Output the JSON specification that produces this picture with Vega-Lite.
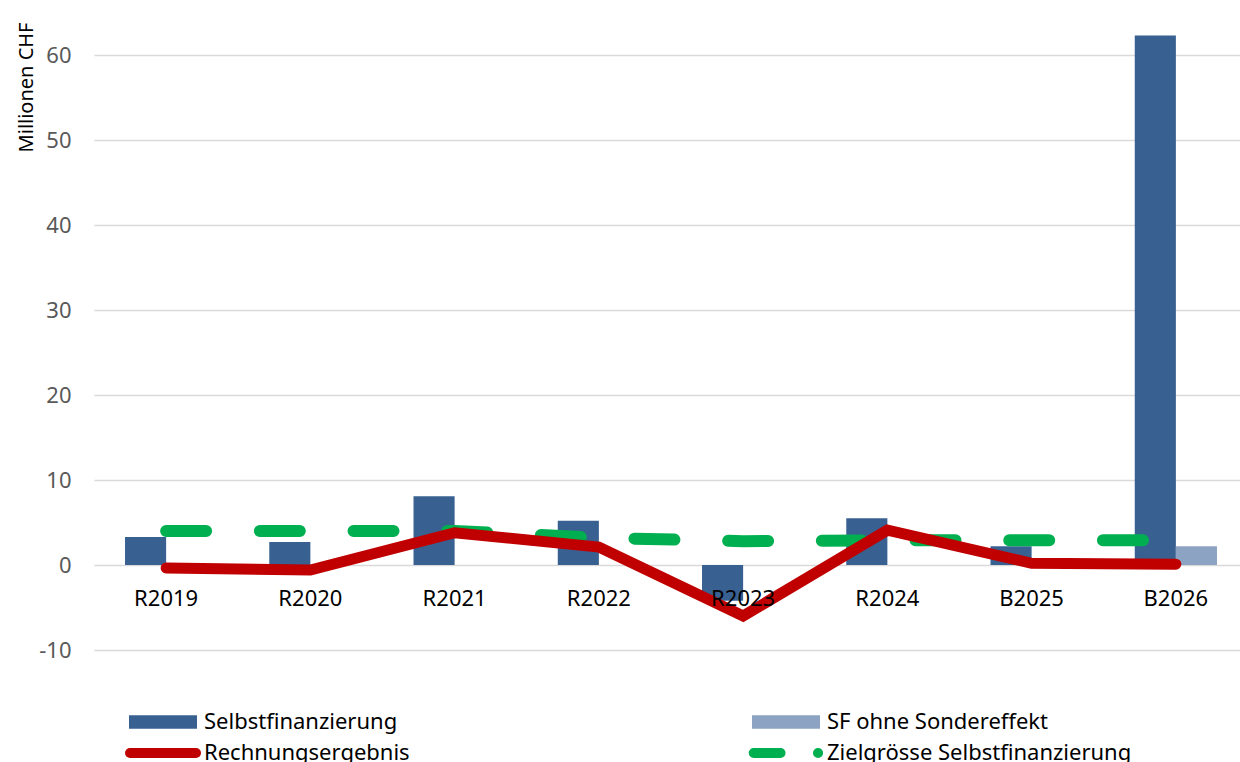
{
  "$schema": "https://vega.github.io/schema/vega-lite/v6.json",
  "autosize": "none",
  "width": 1146,
  "height": 646,
  "padding": {"left": 94, "top": 4, "right": 0, "bottom": 112},
  "background": "white",
  "config": {
    "font": "Noto Sans",
    "view": {"stroke": null},
    "axis": {"labelFont": "Noto Sans", "titleFont": "Noto Sans"},
    "legend": {"labelFont": "Noto Sans"}
  },
  "data": {
    "values": [
      {"periode": "R2019", "reihe": "Selbstfinanzierung", "wert": 3.3},
      {"periode": "R2020", "reihe": "Selbstfinanzierung", "wert": 2.7},
      {"periode": "R2021", "reihe": "Selbstfinanzierung", "wert": 8.1},
      {"periode": "R2022", "reihe": "Selbstfinanzierung", "wert": 5.2},
      {"periode": "R2023", "reihe": "Selbstfinanzierung", "wert": -4.2},
      {"periode": "R2024", "reihe": "Selbstfinanzierung", "wert": 5.5},
      {"periode": "B2025", "reihe": "Selbstfinanzierung", "wert": 2.2},
      {"periode": "B2026", "reihe": "Selbstfinanzierung", "wert": 62.3},
      {"periode": "B2026", "reihe": "SF ohne Sondereffekt", "wert": 2.2},
      {"periode": "R2019", "reihe": "Rechnungsergebnis", "wert": -0.35},
      {"periode": "R2020", "reihe": "Rechnungsergebnis", "wert": -0.6},
      {"periode": "R2021", "reihe": "Rechnungsergebnis", "wert": 3.8},
      {"periode": "R2022", "reihe": "Rechnungsergebnis", "wert": 2.1},
      {"periode": "R2023", "reihe": "Rechnungsergebnis", "wert": -6.0},
      {"periode": "R2024", "reihe": "Rechnungsergebnis", "wert": 4.1},
      {"periode": "B2025", "reihe": "Rechnungsergebnis", "wert": 0.2},
      {"periode": "B2026", "reihe": "Rechnungsergebnis", "wert": 0.1},
      {"periode": "R2019", "reihe": "Zielgrösse Selbstfinanzierung", "wert": 4.0},
      {"periode": "R2020", "reihe": "Zielgrösse Selbstfinanzierung", "wert": 4.0},
      {"periode": "R2021", "reihe": "Zielgrösse Selbstfinanzierung", "wert": 4.0},
      {"periode": "R2022", "reihe": "Zielgrösse Selbstfinanzierung", "wert": 3.2},
      {"periode": "R2023", "reihe": "Zielgrösse Selbstfinanzierung", "wert": 2.8},
      {"periode": "R2024", "reihe": "Zielgrösse Selbstfinanzierung", "wert": 2.9},
      {"periode": "B2025", "reihe": "Zielgrösse Selbstfinanzierung", "wert": 2.9},
      {"periode": "B2026", "reihe": "Zielgrösse Selbstfinanzierung", "wert": 2.9}
    ]
  },
  "encoding": {
    "x": {
      "field": "periode",
      "type": "nominal",
      "sort": ["R2019", "R2020", "R2021", "R2022", "R2023", "R2024", "B2025", "B2026"],
      "scale": {"range": [0, 1154], "paddingInner": 0.43, "paddingOuter": 0.215},
      "axis": {
        "title": null,
        "orient": "bottom",
        "offset": -85,
        "domain": false,
        "ticks": false,
        "tickSize": 0,
        "labelAngle": 0,
        "labelFontSize": 22,
        "labelColor": "#000000",
        "labelBaseline": "alphabetic",
        "labelPadding": 40,
        "zindex": 1
      }
    },
    "y": {
      "field": "wert",
      "type": "quantitative",
      "scale": {"domain": [-10, 66], "nice": false, "zero": false},
      "axis": {
        "values": [-10, 0, 10, 20, 30, 40, 50, 60],
        "labelExpr": "toString(datum.value)",
        "title": "Millionen CHF",
        "titleFontSize": 20,
        "titleFontWeight": "normal",
        "titleColor": "#000000",
        "titleAngle": -90,
        "titleAlign": "right",
        "titleBaseline": "alphabetic",
        "titleX": -62,
        "titleY": 18,
        "domain": false,
        "ticks": false,
        "tickSize": 0,
        "labelFontSize": 22,
        "labelColor": "#595959",
        "labelPadding": 23,
        "grid": true,
        "gridColor": "#D9D9D9",
        "gridWidth": 1.6
      }
    },
    "color": {
      "field": "reihe",
      "type": "nominal",
      "scale": {
        "domain": ["Selbstfinanzierung", "SF ohne Sondereffekt", "Rechnungsergebnis", "Zielgrösse Selbstfinanzierung"],
        "range": ["#386192", "#8CA3C3", "#C00000", "#00B050"]
      },
      "legend": {
        "title": null,
        "orient": "none",
        "legendX": 35,
        "legendY": 707,
        "direction": "horizontal",
        "columns": 2,
        "columnPadding": 323,
        "rowPadding": 0,
        "padding": 0,
        "symbolSize": 4624,
        "symbolStrokeWidth": 0,
        "symbolOffset": 23,
        "labelOffset": 30,
        "labelFontSize": 22,
        "labelColor": "#000000",
        "labelLimit": 400,
        "encode": {
          "symbols": {
            "update": {
              "shape": {"signal": "datum.value === 'Rechnungsergebnis' ? 'M-0.97,0H0.97' : datum.value === 'Zielgrösse Selbstfinanzierung' ? 'M-0.95,0H-0.16M0.94,0H0.945' : 'M-1,-0.2H1V0.2H-1Z'"},
              "fill": {"signal": "datum.value === 'Selbstfinanzierung' ? '#386192' : datum.value === 'SF ohne Sondereffekt' ? '#8CA3C3' : 'transparent'"},
              "stroke": {"signal": "datum.value === 'Rechnungsergebnis' ? '#C00000' : datum.value === 'Zielgrösse Selbstfinanzierung' ? '#00B050' : 'transparent'"},
              "strokeWidth": {"signal": "datum.value === 'Rechnungsergebnis' ? 10 : datum.value === 'Zielgrösse Selbstfinanzierung' ? 10 : 0"},
              "strokeCap": {"value": "round"},
              "opacity": {"value": 1}
            }
          }
        }
      }
    }
  },
  "layer": [
    {
      "transform": [{"filter": "datum.reihe === 'Selbstfinanzierung' || datum.reihe === 'SF ohne Sondereffekt'"}],
      "mark": {"type": "bar", "opacity": 1},
      "encoding": {
        "xOffset": {
          "field": "reihe",
          "type": "nominal",
          "scale": {"domain": ["Selbstfinanzierung", "SF ohne Sondereffekt"], "paddingInner": 0, "paddingOuter": 0}
        }
      }
    },
    {
      "transform": [{"filter": "datum.reihe === 'Zielgrösse Selbstfinanzierung'"}],
      "mark": {"type": "line", "strokeWidth": 12, "strokeCap": "round", "strokeJoin": "round", "strokeDash": [40, 53.7]},
      "encoding": {}
    },
    {
      "transform": [{"filter": "datum.reihe === 'Rechnungsergebnis'"}],
      "mark": {"type": "line", "strokeWidth": 11, "strokeCap": "round", "strokeJoin": "miter"},
      "encoding": {}
    }
  ]
}
